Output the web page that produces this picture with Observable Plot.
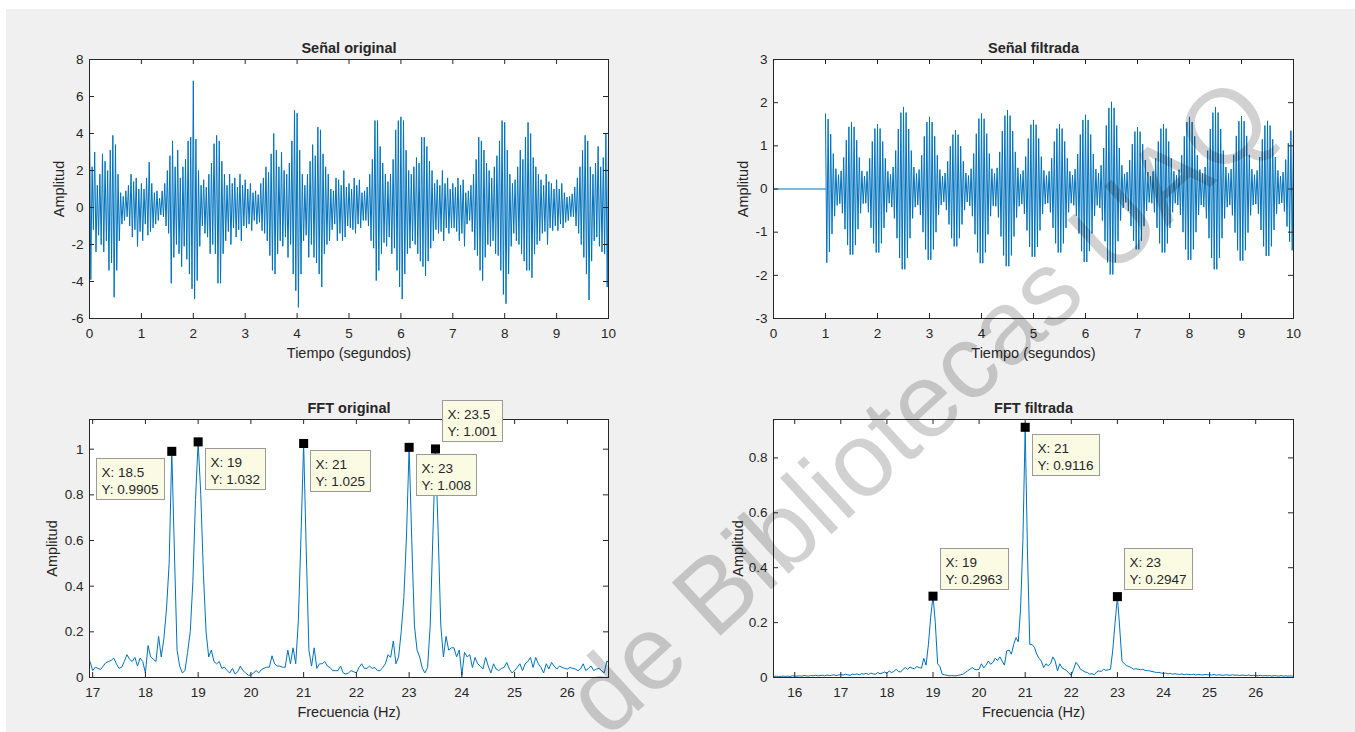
<!DOCTYPE html>
<html>
<head>
<meta charset="utf-8">
<script src="https://cdn.jsdelivr.net/npm/d3@7"></script>
<script src="https://cdn.jsdelivr.net/npm/@observablehq/plot@0.6"></script>
<style>
  body { margin: 0; background: #fff; }
  #fig { position: relative; width: 1355px; height: 732px; overflow: hidden; background: #fff;
         font-family: "Liberation Sans", Arial, Helvetica, sans-serif; }
  #bg { position: absolute; left: 6px; top: 9px; right: 0; bottom: 0; background: #f0f0f0; }
  .panel { position: absolute; }
  .panel svg { overflow: visible; display: block; }
  #wm { position: absolute; left: 0; top: 0; pointer-events: none; }
</style>
</head>
<body>
<div id="fig"><div id="bg"></div></div>
<script>
// ---------------- DATA ----------------
// Señal original: alternating local extremes, one every 0.025 s from t = 0 to t = 10
const origStep = 0.025;
const origSignal = [
  5.2,-3.9, 2.2,-1.2, 3.0,-2.4, 1.2,-1.5, 1.8,-2.0, 2.9,-2.4, 2.5,-1.8, 2.0,-3.4, 3.1,-3.0, 3.9,-4.85,
  3.4,-3.4, 1.8,-1.8, 0.8,-0.9, 0.6,-0.7, 0.9,-0.5, 1.2,-1.0, 1.8,-1.6, 1.4,-1.2, 1.6,-2.1, 1.0,-1.3,
  1.3,-1.8, 1.0,-0.9, 1.6,-1.5, 2.45,-1.3, 1.3,-1.1, 0.8,-0.9, 0.9,-0.7, 0.5,-0.4, 0.9,-0.5, 1.3,-1.0,
  2.0,-1.4, 2.8,-4.1, 3.6,-2.7, 2.2,-2.0, 3.1,-2.5, 1.6,-3.2, 2.2,-2.1, 2.6,-2.8, 3.6,-3.6, 3.8,-4.4,
  6.85,-4.95, 3.7,-3.95, 2.0,-2.1, 1.2,-1.0, 1.5,-1.4, 1.1,-1.6, 1.8,-2.5, 2.4,-2.0, 3.45,-2.5, 3.9,-4.1,
  3.6,-4.1, 2.5,-2.5, 1.8,-1.8, 1.2,-1.3, 1.8,-2.0, 1.3,-1.1, 1.6,-1.6, 1.1,-1.2, 1.8,-1.8, 1.2,-1.0,
  1.5,-1.1, 1.0,-0.9, 1.3,-1.25, 0.8,-0.7, 0.9,-0.9, 0.7,-0.8, 1.3,-1.25, 1.6,-1.4, 2.2,-1.8, 1.9,-2.6,
  2.9,-3.4, 4.0,-3.6, 3.1,-2.5, 2.2,-1.8, 3.0,-2.1, 2.0,-1.6, 1.8,-2.7, 2.4,-2.0, 3.6,-3.6, 5.25,-4.5,
  5.1,-5.4, 3.1,-3.6, 1.8,-1.8, 1.2,-1.5, 1.8,-2.7, 2.5,-2.0, 3.4,-2.7, 2.8,-3.0, 4.35,-3.6, 4.2,-4.3,
  2.9,-2.5, 2.2,-2.0, 1.8,-1.8, 1.0,-1.2, 0.9,-0.9, 1.6,-1.8, 1.5,-1.4, 1.2,-1.8, 2.0,-1.6, 1.1,-1.0,
  1.3,-1.1, 1.0,-1.2, 1.6,-1.4, 1.2,-0.9, 1.5,-1.1, 0.8,-0.7, 0.9,-0.7, 1.1,-1.0, 1.8,-1.8, 2.6,-2.2,
  4.7,-3.95, 4.7,-3.4, 3.3,-2.5, 2.4,-1.9, 1.8,-2.1, 1.4,-1.6, 1.8,-2.5, 2.6,-2.2, 4.2,-3.4, 4.7,-4.3,
  4.9,-4.95, 4.7,-3.6, 3.1,-2.5, 2.0,-2.2, 1.8,-1.8, 2.2,-2.0, 2.7,-2.5, 2.4,-2.9, 3.8,-3.2, 3.8,-3.7,
  3.3,-2.9, 2.5,-2.2, 2.0,-1.8, 1.3,-1.2, 1.5,-1.4, 1.2,-1.3, 2.0,-1.8, 1.3,-1.1, 1.6,-1.4, 1.0,-1.1,
  1.3,-1.1, 1.1,-1.3, 1.6,-1.8, 1.2,-1.4, 1.5,-2.1, 0.8,-0.9, 0.9,-0.7, 1.2,-1.3, 1.8,-2.3, 2.6,-2.6,
  3.8,-3.4, 3.6,-3.95, 3.1,-2.7, 2.4,-2.0, 2.0,-2.1, 1.6,-1.8, 2.2,-2.5, 2.8,-2.6, 3.6,-3.4, 4.7,-4.7,
  4.6,-5.2, 3.1,-3.6, 1.8,-2.1, 1.3,-1.4, 1.5,-1.8, 2.2,-2.0, 3.1,-2.5, 2.6,-2.9, 3.8,-3.4, 4.6,-3.4,
  4.0,-3.8, 2.7,-2.5, 2.2,-2.0, 1.8,-1.8, 1.5,-1.4, 1.2,-1.3, 1.8,-2.0, 1.4,-1.1, 1.3,-1.25, 1.0,-1.0,
  1.5,-1.25, 1.0,-0.9, 1.3,-1.1, 0.8,-0.8, 0.56,-0.7, 0.6,-0.5, 0.74,-0.5, 1.1,-1.0, 1.6,-1.4, 2.2,-2.0,
  3.1,-2.7, 3.9,-3.6, 3.6,-5.0, 2.2,-2.9, 1.8,-1.8, 2.4,-1.6, 3.3,-2.1, 2.2,-2.4, 2.7,-2.5, 4.0,-4.3,
  3.8
];

// Señal filtrada: zero until 1 s, then alternating extremes every 0.025 s from t = 1 to t = 10
const filtFlat = [{x: 0, y: 0}, {x: 1, y: 0}];
const filtStart = 1.0;
const filtStep = 0.025;
const filtSignal = [
  1.74,-1.71,1.62,-1.46,1.27,-1.04,0.82,-0.63,0.47,-0.38,0.33,-0.34,0.42,-0.56,0.73,-0.93,1.13,-1.30,1.44,-1.52,
  1.55,-1.52,1.44,-1.30,1.13,-0.93,0.73,-0.56,0.42,-0.34,0.30,-0.33,0.41,-0.54,0.71,-0.90,1.10,-1.26,1.40,-1.47,
  1.50,-1.47,1.40,-1.26,1.10,-0.90,0.71,-0.54,0.41,-0.33,0.34,-0.42,0.51,-0.68,0.89,-1.14,1.39,-1.60,1.77,-1.86,
  1.90,-1.86,1.77,-1.60,1.39,-1.14,0.89,-0.68,0.51,-0.42,0.36,-0.37,0.45,-0.60,0.78,-1.00,1.22,-1.40,1.55,-1.64,
  1.67,-1.64,1.55,-1.40,1.22,-1.00,0.78,-0.60,0.45,-0.37,0.30,-0.30,0.37,-0.49,0.64,-0.82,0.99,-1.14,1.26,-1.33,
  1.36,-1.33,1.26,-1.14,0.99,-0.82,0.64,-0.49,0.37,-0.30,0.31,-0.39,0.47,-0.63,0.82,-1.05,1.28,-1.47,1.63,-1.72,
  1.75,-1.72,1.63,-1.47,1.28,-1.05,0.82,-0.63,0.47,-0.39,0.36,-0.40,0.49,-0.66,0.86,-1.10,1.34,-1.54,1.70,-1.79,
  1.83,-1.79,1.70,-1.54,1.34,-1.10,0.86,-0.66,0.49,-0.40,0.34,-0.35,0.43,-0.58,0.75,-0.96,1.17,-1.34,1.49,-1.57,
  1.60,-1.57,1.49,-1.34,1.17,-0.96,0.75,-0.58,0.43,-0.35,0.31,-0.33,0.41,-0.54,0.71,-0.90,1.10,-1.26,1.40,-1.47,
  1.50,-1.47,1.40,-1.26,1.10,-0.90,0.71,-0.54,0.41,-0.33,0.32,-0.38,0.46,-0.62,0.81,-1.03,1.26,-1.44,1.60,-1.69,
  1.72,-1.69,1.60,-1.44,1.26,-1.03,0.81,-0.62,0.46,-0.38,0.37,-0.44,0.55,-0.73,0.95,-1.21,1.47,-1.70,1.88,-1.98,
  2.02,-1.98,1.88,-1.70,1.47,-1.21,0.95,-0.73,0.55,-0.44,0.35,-0.31,0.39,-0.51,0.67,-0.86,1.04,-1.20,1.33,-1.40,
  1.43,-1.40,1.33,-1.20,1.04,-0.86,0.67,-0.51,0.39,-0.31,0.30,-0.33,0.41,-0.54,0.71,-0.90,1.10,-1.26,1.40,-1.47,
  1.50,-1.47,1.40,-1.26,1.10,-0.90,0.71,-0.54,0.41,-0.33,0.32,-0.37,0.45,-0.60,0.78,-1.00,1.22,-1.40,1.55,-1.64,
  1.67,-1.64,1.55,-1.40,1.22,-1.00,0.78,-0.60,0.45,-0.37,0.36,-0.42,0.51,-0.68,0.89,-1.14,1.39,-1.60,1.77,-1.86,
  1.90,-1.86,1.77,-1.60,1.39,-1.14,0.89,-0.68,0.51,-0.42,0.36,-0.37,0.46,-0.61,0.79,-1.01,1.23,-1.42,1.57,-1.66,
  1.69,-1.66,1.57,-1.42,1.23,-1.01,0.79,-0.61,0.46,-0.37,0.33,-0.35,0.43,-0.57,0.74,-0.95,1.15,-1.33,1.47,-1.55,
  1.58,-1.55,1.47,-1.33,1.15,-0.95,0.74,-0.57,0.43,-0.35,0.30,-0.32,0.39,-0.52,0.68,-0.87,1.06,-1.22,1.35,-1.42,
  1.45
];

// FFT original: amplitude every 0.05 Hz from 16.90 Hz to 26.85 Hz
const fftOrigStart = 16.90;
const fftStep = 0.05;
const fftOrig = [
  0.08, 0.07,
  0.03, 0.045, 0.04, 0.035, 0.05, 0.065, 0.07, 0.075, 0.085, 0.06, 0.04, 0.045, 0.07, 0.10, 0.08, 0.07, 0.088, 0.05, 0.085, 0.07,
  0.02, 0.14, 0.09, 0.08, 0.07, 0.18, 0.09, 0.17, 0.30, 0.50, 0.9905, 0.55, 0.12, 0.05, 0.02, 0.03, 0.11, 0.20, 0.42, 0.78,
  1.032, 0.80, 0.45, 0.20, 0.09, 0.12, 0.07, 0.06, 0.07, 0.04, 0.045, 0.03, 0.02, 0.04, 0.015, 0.025, 0.05, 0.03, 0.02, 0.01,
  0.01, 0.02, 0.03, 0.02, 0.035, 0.04, 0.045, 0.045, 0.095, 0.06, 0.05, 0.05, 0.045, 0.045, 0.12, 0.06, 0.13, 0.06, 0.25, 0.62,
  1.025, 0.55, 0.12, 0.05, 0.13, 0.04, 0.06, 0.06, 0.07, 0.05, 0.044, 0.03, 0.03, 0.03, 0.05, 0.02, 0.015, 0.02, 0.03, 0.025,
  0.02, 0.044, 0.06, 0.04, 0.04, 0.05, 0.04, 0.044, 0.03, 0.03, 0.044, 0.06, 0.10, 0.088, 0.16, 0.06, 0.09, 0.20, 0.35, 0.62,
  1.008, 0.60, 0.23, 0.12, 0.09, 0.04, 0.02, 0.044, 0.23, 0.62, 1.001, 0.64, 0.23, 0.09, 0.18, 0.12, 0.13, 0.13, 0.09, 0.12,
  0.01, 0.11, 0.09, 0.10, 0.044, 0.088, 0.06, 0.05, 0.037, 0.088, 0.05, 0.02, 0.06, 0.037, 0.03, 0.04, 0.044, 0.066, 0.037, 0.02,
  0.03, 0.044, 0.06, 0.03, 0.06, 0.07, 0.088, 0.044, 0.088, 0.06, 0.044, 0.02, 0.06, 0.037, 0.066, 0.05, 0.037, 0.05, 0.044, 0.04,
  0.037, 0.044, 0.04, 0.037, 0.03, 0.037, 0.06, 0.03, 0.04, 0.05, 0.03, 0.037, 0.04, 0.03, 0.02, 0.073, 0.06, 0.05
];

// FFT filtrada: amplitude every 0.05 Hz from 15.50 Hz to 26.85 Hz
const fftFiltStart = 15.50;
const fftFilt = [
  0.004, 0.004, 0.005, 0.003, 0.004, 0.005, 0.004, 0.005, 0.004, 0.006,
  0.005, 0.005, 0.006, 0.005, 0.007, 0.006, 0.005, 0.007, 0.006, 0.008, 0.006, 0.007, 0.008, 0.006, 0.009, 0.007, 0.008, 0.010, 0.007, 0.009,
  0.011, 0.009, 0.012, 0.010, 0.008, 0.012, 0.011, 0.013, 0.010, 0.014, 0.012, 0.015, 0.011, 0.016, 0.013, 0.012, 0.018, 0.014, 0.016, 0.020,
  0.015, 0.024, 0.018, 0.022, 0.030, 0.022, 0.020, 0.030, 0.036, 0.030, 0.038, 0.034, 0.032, 0.040, 0.036, 0.034, 0.070, 0.045, 0.120, 0.220,
  0.2963, 0.200, 0.050, 0.040, 0.012, 0.010, 0.008, 0.006, 0.007, 0.006, 0.006, 0.008, 0.010, 0.012, 0.018, 0.024, 0.030, 0.036, 0.030, 0.028,
  0.030, 0.050, 0.035, 0.045, 0.060, 0.048, 0.055, 0.070, 0.062, 0.075, 0.060, 0.045, 0.097, 0.100, 0.085, 0.120, 0.145, 0.130, 0.250, 0.500,
  0.9116, 0.450, 0.120, 0.120, 0.110, 0.085, 0.070, 0.060, 0.036, 0.050, 0.043, 0.050, 0.075, 0.060, 0.024, 0.050, 0.035, 0.030, 0.025, 0.015,
  0.008, 0.030, 0.055, 0.045, 0.030, 0.025, 0.020, 0.018, 0.012, 0.014, 0.010, 0.020, 0.024, 0.022, 0.030, 0.026, 0.028, 0.030, 0.100, 0.200,
  0.2947, 0.180, 0.060, 0.050, 0.043, 0.040, 0.036, 0.030, 0.032, 0.030, 0.028, 0.030, 0.026, 0.025, 0.024, 0.022, 0.020, 0.018, 0.019, 0.016,
  0.015, 0.016, 0.013, 0.015, 0.012, 0.014, 0.012, 0.011, 0.013, 0.010, 0.012, 0.011, 0.010, 0.012, 0.009, 0.011, 0.010, 0.009, 0.011, 0.010,
  0.010, 0.009, 0.011, 0.008, 0.010, 0.009, 0.008, 0.010, 0.009, 0.008, 0.010, 0.008, 0.009, 0.007, 0.009, 0.008, 0.007, 0.009, 0.007, 0.008,
  0.007, 0.006, 0.008, 0.006, 0.007, 0.006, 0.007, 0.005, 0.007, 0.006, 0.005, 0.007, 0.005, 0.006, 0.005, 0.006, 0.005, 0.006
];

// Data tips (X / Y values shown in the boxes)
const tipsOrig = [
  {x: 18.5, y: 0.9905, place: "bl"},
  {x: 19,   y: 1.032,  place: "br"},
  {x: 21,   y: 1.025,  place: "br"},
  {x: 23,   y: 1.008,  place: "br"},
  {x: 23.5, y: 1.001,  place: "ar"}
];
const tipsFilt = [
  {x: 19, y: 0.2963, place: "ar"},
  {x: 21, y: 0.9116, place: "br"},
  {x: 23, y: 0.2947, place: "ar"}
];

// Ticks
const timeTicks = [0, 1, 2, 3, 4, 5, 6, 7, 8, 9, 10];
const origYTicks = [-6, -4, -2, 0, 2, 4, 6, 8];
const filtYTicks = [-3, -2, -1, 0, 1, 2, 3];
const fftOrigXTicks = [17, 18, 19, 20, 21, 22, 23, 24, 25, 26];
const fftOrigYTicks = [0, 0.2, 0.4, 0.6, 0.8, 1];
const fftFiltXTicks = [16, 17, 18, 19, 20, 21, 22, 23, 24, 25, 26];
const fftFiltYTicks = [0, 0.2, 0.4, 0.6, 0.8];

// ---------------- BUILD SERIES ----------------
const origSeries = origSignal.map((v, i) => ({x: +(i * origStep).toFixed(3), y: v}));
const filtSeries = filtSignal.map((v, i) => ({x: +(filtStart + i * filtStep).toFixed(3), y: v}));
const fftOrigSeries = fftOrig.map((v, i) => ({x: +(fftOrigStart + i * fftStep).toFixed(2), y: v}));
const fftFiltSeries = fftFilt.map((v, i) => ({x: +(fftFiltStart + i * fftStep).toFixed(2), y: v}));

// ---------------- DRAW ----------------
const FONT = '"Liberation Sans", Arial, Helvetica, sans-serif';
const INK = "#262626";
const BLUE = "#0072bd";
const fig = document.getElementById("fig");

function drawPanel(cfg) {
  const mL = 70, mR = 20, mT = 35, mB = 55;
  const W = cfg.fw + mL + mR, H = cfg.fh + mT + mB;
  const tl = 5;
  const fmt = d => String(d);
  const marks = [
    Plot.frame({fill: "#ffffff", stroke: "none"}),
    ...cfg.lines.map(data => Plot.line(data, {x: "x", y: "y", stroke: BLUE, strokeWidth: 1, clip: true})),
    Plot.tickX(cfg.xTicks, {x: d => d, insetTop: cfg.fh - tl, stroke: INK}),
    Plot.tickX(cfg.xTicks, {x: d => d, insetBottom: cfg.fh - tl, stroke: INK}),
    Plot.tickY(cfg.yTicks, {y: d => d, insetRight: cfg.fw - tl, stroke: INK}),
    Plot.tickY(cfg.yTicks, {y: d => d, insetLeft: cfg.fw - tl, stroke: INK}),
    Plot.axisX(cfg.xTicks, {tickSize: 0, tickPadding: 10, tickFormat: fmt, fontSize: 13.5, label: null, fill: INK}),
    Plot.axisY(cfg.yTicks, {tickSize: 0, tickPadding: 6, tickFormat: fmt, fontSize: 13.5, label: null, fill: INK}),
    Plot.frame({stroke: INK, fill: "none"}),
    Plot.text([cfg.title], {text: d => d, frameAnchor: "top", lineAnchor: "middle", dy: -11, fontWeight: "bold", fontSize: 14.5, fill: INK}),
    Plot.text([cfg.xLabel], {text: d => d, frameAnchor: "bottom", lineAnchor: "middle", dy: 35, fontSize: 14.5, fill: INK}),
    Plot.text([cfg.yLabel], {text: d => d, frameAnchor: "left", textAnchor: "middle", lineAnchor: "middle", dx: -cfg.yLabelOff, rotate: -90, fontSize: 14.5, fill: INK})
  ];
  if (cfg.tips) {
    marks.push(Plot.dot(cfg.tips, {x: "x", y: "y", symbol: "square", r: 5.1, fill: "#000", stroke: "none"}));
  }
  const svg = Plot.plot({
    width: W, height: H,
    marginLeft: mL, marginRight: mR, marginTop: mT, marginBottom: mB,
    x: {domain: cfg.xDomain},
    y: {domain: cfg.yDomain},
    style: {background: "transparent", color: INK, fontFamily: FONT, fontSize: "13.5px", overflow: "visible"},
    marks
  });
  const div = document.createElement("div");
  div.className = "panel";
  div.style.left = (cfg.left - mL) + "px";
  div.style.top = (cfg.top - mT) + "px";
  div.appendChild(svg);
  fig.appendChild(div);
  if (cfg.tips) addTips(svg, cfg.tips);
}

function addTips(svg, tips) {
  const xs = svg.scale("x"), ys = svg.scale("y");
  const g = d3.select(svg).append("g")
    .attr("font-family", FONT).attr("font-size", 13.5).attr("fill", INK)
    .attr("text-anchor", "start");
  const gap = 7, h = 41, pad = 5;
  for (const t of tips) {
    const px = xs.apply(t.x), py = ys.apply(t.y);
    const gg = g.append("g");
    const rect = gg.append("rect").attr("fill", "#fbfbe4").attr("stroke", "#9a9a9a").attr("stroke-width", 1);
    const l1 = gg.append("text").attr("text-anchor", "start").text(`X: ${t.x}`);
    const l2 = gg.append("text").attr("text-anchor", "start").text(`Y: ${t.y}`);
    const w = Math.ceil(Math.max(l1.node().getComputedTextLength(), l2.node().getComputedTextLength())) + 2 * pad;
    let left, top;
    if (t.place === "bl") { left = px - gap - w; top = py + gap; }
    else if (t.place === "ar") { left = px + gap; top = py - gap - h; }
    else { left = px + gap; top = py + gap; }
    left = Math.round(left) + 0.5; top = Math.round(top) + 0.5;
    rect.attr("x", left).attr("y", top).attr("width", w).attr("height", h);
    l1.attr("x", left + pad).attr("y", top + 18.5);
    l2.attr("x", left + pad).attr("y", top + 35);
  }
}

drawPanel({
  left: 89, top: 59, fw: 519, fh: 259,
  xDomain: [0, 10], yDomain: [-6, 8], xTicks: timeTicks, yTicks: origYTicks,
  title: "Señal original", xLabel: "Tiempo (segundos)", yLabel: "Amplitud", yLabelOff: 30,
  lines: [origSeries]
});
drawPanel({
  left: 773, top: 59, fw: 520, fh: 259,
  xDomain: [0, 10], yDomain: [-3, 3], xTicks: timeTicks, yTicks: filtYTicks,
  title: "Señal filtrada", xLabel: "Tiempo (segundos)", yLabel: "Amplitud", yLabelOff: 30,
  lines: [filtFlat, filtSeries]
});
drawPanel({
  left: 89, top: 419, fw: 519, fh: 258,
  xDomain: [16.94, 26.78], yDomain: [0, 1.13], xTicks: fftOrigXTicks, yTicks: fftOrigYTicks,
  title: "FFT original", xLabel: "Frecuencia (Hz)", yLabel: "Amplitud", yLabelOff: 37,
  lines: [fftOrigSeries], tips: tipsOrig
});
drawPanel({
  left: 773, top: 419, fw: 520, fh: 258,
  xDomain: [15.54, 26.82], yDomain: [0, 0.94], xTicks: fftFiltXTicks, yTicks: fftFiltYTicks,
  title: "FFT filtrada", xLabel: "Frecuencia (Hz)", yLabel: "Amplitud", yLabelOff: 35,
  lines: [fftFiltSeries], tips: tipsFilt
});

// Watermark
const wmText = "de Bibliotecas UAQ";
const wm = d3.select(fig).append("svg").attr("id", "wm").attr("width", 1355).attr("height", 732);
wm.append("text")
  .attr("x", 1278).attr("y", 125)
  .attr("transform", "rotate(-42.5 1278 125)")
  .attr("text-anchor", "end")
  .attr("font-family", FONT)
  .attr("font-size", 105)
  .attr("fill", "#000").attr("fill-opacity", 0.18)
  .text(wmText);
</script>
</body>
</html>
